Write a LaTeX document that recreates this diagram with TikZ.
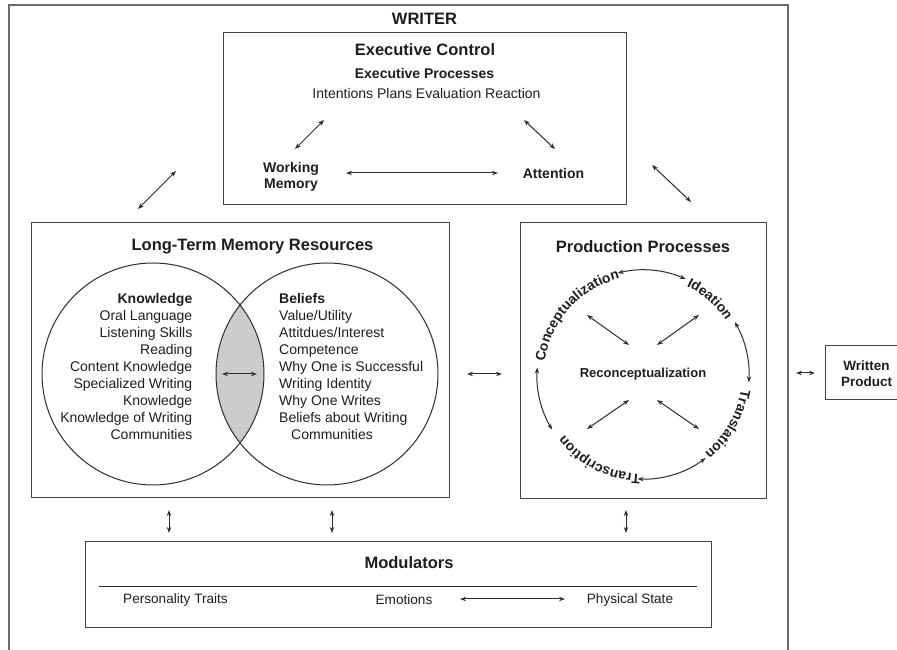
\documentclass[tikz,border=0pt]{standalone}
\usepackage{fontspec}
\setmainfont{Liberation Sans}
\usetikzlibrary{arrows.meta,decorations.text}
\definecolor{txt}{HTML}{1E1E1E}
\definecolor{ln}{HTML}{2E2E2E}
\definecolor{bx}{HTML}{444444}
\definecolor{outer}{HTML}{6A6A6A}
\definecolor{lens}{HTML}{CCCCCC}
\begin{document}
\begin{tikzpicture}[x=1pt,y=1pt,
  >={Stealth[length=6pt,width=4.4pt]},
  box/.style={draw=bx, line width=1pt, inner sep=0pt},
  arr/.style={<->, draw=ln, line width=1pt},
  ttl/.style={font=\bfseries\fontsize{16.5}{19}\selectfont, text=txt, inner sep=0pt},
  sub/.style={font=\bfseries\fontsize{14}{16.5}\selectfont, text=txt, inner sep=0pt},
  reg/.style={font=\fontsize{14}{17}\selectfont, text=txt, inner sep=0pt},
  arclabel/.style={decorate, decoration={text along path, text align=center, text color=txt}},
]
\useasboundingbox (0,0) rectangle (897,650);
\fill[white] (0,0) rectangle (897,650);

% outer WRITER frame
\draw[draw=outer, line width=1.2pt] (9,-5) -- (9,645) -- (788,645) -- (788,-5);
\node[ttl] (writer) at (424.5,631) {WRITER};

% Executive control
\node[box, minimum width=403pt, minimum height=172pt] (exec) at (424.5,531) {};
\node[ttl] (ec) at (425,600) {Executive Control};
\node[sub] (ep) at (424.5,576) {Executive Processes};
\node[reg] (ipe) at (426.5,556) {Intentions Plans Evaluation Reaction};
\node[sub, align=center] (wm) at (291,473) {Working\\Memory};
\node[sub] (att) at (553.5,476) {Attention};
\coordinate (wmA) at (346,477); \coordinate (attA) at (498,477);
\draw[arr] (wmA) -- (attA);
\coordinate (d1a) at (295,501); \coordinate (d1b) at (324,530);
\draw[arr] (d1a) -- (d1b);
\coordinate (d2a) at (524,530); \coordinate (d2b) at (555,501);
\draw[arr] (d2a) -- (d2b);
\coordinate (o1a) at (138,441); \coordinate (o1b) at (176,479);
\draw[arr] (o1a) -- (o1b);
\coordinate (o2a) at (652,485); \coordinate (o2b) at (691,448);
\draw[arr] (o2a) -- (o2b);

% Long-term memory
\node[box, minimum width=418pt, minimum height=275pt] (ltm) at (240,289.5) {};
\node[ttl] (ltmt) at (252.5,403) {Long-Term Memory Resources};
\coordinate (cl) at (153,276);
\coordinate (cr) at (327,276);
\begin{scope}
  \clip (cl) circle (111);
  \fill[lens] (cr) circle (111);
\end{scope}
\draw[draw=ln, line width=1pt] (cl) circle (111);
\draw[draw=ln, line width=1pt] (cr) circle (111);
\node[reg, align=right, anchor=east] (know) at (192.5,283) {\textbf{Knowledge}\\Oral Language\\Listening Skills\\Reading\\Content Knowledge\\Specialized Writing\\Knowledge\\Knowledge of Writing\\Communities};
\node[reg, align=left, anchor=west] (bel) at (279,283) {\textbf{Beliefs}\\Value/Utility\\Attitdues/Interest\\Competence\\Why One is Successful\\Writing Identity\\Why One Writes\\Beliefs about Writing\\\hspace*{12pt}Communities};
\coordinate (lensA) at (222,276); \coordinate (lensB) at (257,276);
\draw[arr] (lensA) -- (lensB);

% Production processes
\node[box, minimum width=246pt, minimum height=276pt] (prod) at (643,289) {};
\node[ttl] (prodt) at (643,403) {Production Processes};
\coordinate (pc) at (643,275);
\node[font=\bfseries\fontsize{13}{15}\selectfont, text=txt, inner sep=0pt] (recon) at (643,276) {Reconceptualization};
\path[arclabel, decoration={text={|\bfseries\fontsize{13.8}{16}\selectfont|Conceptualization}}]
  (pc) ++(180:99) arc[start angle=180, end angle=96, radius=99];
\path[arclabel, decoration={text={|\bfseries\fontsize{13.8}{16}\selectfont|Ideation}}]
  (pc) ++(88.5:99) arc[start angle=88.5, end angle=8.5, radius=99];
\path[arclabel, decoration={text={|\bfseries\fontsize{13.8}{16}\selectfont|Translation}}]
  (pc) ++(10:99) arc[start angle=10, end angle=-70, radius=99];
\path[arclabel, decoration={text={|\bfseries\fontsize{13.8}{16}\selectfont|Transcription}}]
  (pc) ++(-77:99) arc[start angle=-77, end angle=-157, radius=99];
\draw[arr] (pc) ++(104:105) arc[start angle=104, end angle=66, radius=105];
\draw[arr] (pc) ++(30:106) arc[start angle=30, end angle=-4, radius=106];
\draw[arr] (pc) ++(-53:104) arc[start angle=-53, end angle=-93, radius=104];
\draw[arr] (pc) ++(176:106) arc[start angle=176, end angle=211, radius=106];
\coordinate (i1a) at (587,335); \coordinate (i1b) at (629,305);
\draw[arr] (i1a) -- (i1b);
\coordinate (i2a) at (657,305); \coordinate (i2b) at (699,335);
\draw[arr] (i2a) -- (i2b);
\coordinate (i3a) at (587,221); \coordinate (i3b) at (629,250);
\draw[arr] (i3a) -- (i3b);
\coordinate (i4a) at (657,250); \coordinate (i4b) at (699,221);
\draw[arr] (i4a) -- (i4b);

% between LTM and production
\coordinate (lpA) at (467,276); \coordinate (lpB) at (502,276);
\draw[arr] (lpA) -- (lpB);

% written product
\draw[draw=bx, line width=1pt] (902,304) -- (825,304) -- (825,250) -- (902,250);
\node[sub, align=center, font=\bfseries\fontsize{13.5}{16}\selectfont] (wp) at (866.5,276) {Written\\Product};
\coordinate (wpA) at (796,277); \coordinate (wpB) at (815,277);
\draw[arr] (wpA) -- (wpB);

% vertical arrows to modulators
\coordinate (v1a) at (169,140); \coordinate (v1b) at (169,117);
\draw[arr] (v1a) -- (v1b);
\coordinate (v2a) at (332,140); \coordinate (v2b) at (332,117);
\draw[arr] (v2a) -- (v2b);
\coordinate (v3a) at (626,140); \coordinate (v3b) at (626,117);
\draw[arr] (v3a) -- (v3b);

% modulators
\node[box, minimum width=626pt, minimum height=86pt] (modb) at (398,65) {};
\node[ttl] (mod) at (409,87) {Modulators};
\coordinate (mlA) at (99,63); \coordinate (mlB) at (697,63);
\draw[draw=ln, line width=1pt] (mlA) -- (mlB);
\node[reg, font=\fontsize{13.6}{16}\selectfont] (pt) at (175.5,50) {Personality Traits};
\node[reg, font=\fontsize{13.6}{16}\selectfont] (emo) at (404,50) {Emotions};
\node[reg, font=\fontsize{13.6}{16}\selectfont] (phy) at (630,50) {Physical State};
\coordinate (eA) at (460,51); \coordinate (eB) at (565,51);
\draw[arr] (eA) -- (eB);
\end{tikzpicture}
\end{document}
